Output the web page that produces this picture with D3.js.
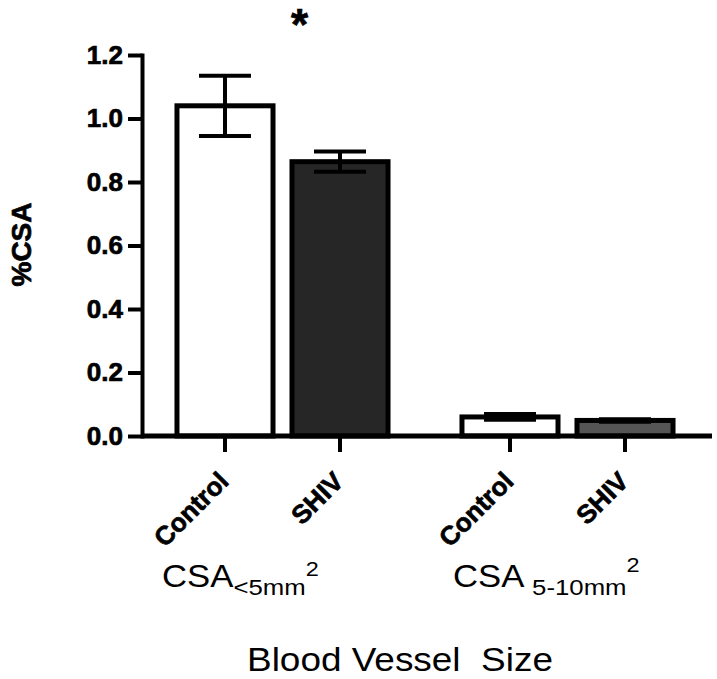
<!DOCTYPE html>
<html>
<head>
<meta charset="utf-8">
<script src="https://cdn.jsdelivr.net/npm/d3@7"></script>
<style>
  html, body { margin: 0; padding: 0; background: #fff; }
  svg { display: block; }
  text { font-family: "Liberation Sans", Arial, Helvetica, sans-serif; }
  .heavy { stroke: #000; stroke-width: 0.7px; paint-order: stroke; }
</style>
</head>
<body>
<svg id="chart" width="717" height="679"></svg>
<script>
// ---- data ----
const groups = ["lt5", "5to10"];
const conditions = ["Control", "SHIV"];
const controlMeans = [1.04, 0.06];
const controlSEM = [0.095, 0.009];
const shivMeans = [0.864, 0.049];
const shivSEM = [0.032, 0.004];
const yTicks = [0, 0.2, 0.4, 0.6, 0.8, 1.0, 1.2];
const groupLabelMain = ["CSA", "CSA "];
const groupLabelSub = ["<5mm", "5-10mm"];
const groupLabelSup = ["2", "2"];
const yLabel = "%CSA";
const xLabel = "Blood Vessel  Size";
const significance = ["*", ""];
const fills = { Control: "#ffffff", SHIV: ["#262626", "#555555"] };

const rows = [];
groups.forEach((g, i) => {
  rows.push({ group: g, gi: i, cond: "Control", mean: controlMeans[i], sem: controlSEM[i] });
  rows.push({ group: g, gi: i, cond: "SHIV", mean: shivMeans[i], sem: shivSEM[i] });
});

const svg = d3.select("#chart");

const y = d3.scaleLinear().domain([0, 1.2]).range([436, 55]);
const x0 = d3.scaleBand().domain(groups).range([140, 710]);
const x1 = d3.scaleBand().domain(conditions).range([0, x0.bandwidth()])
  .paddingInner(0.165).paddingOuter(0.3215);

// ---- bars ----
svg.append("g").selectAll("rect").data(rows).join("rect")
  .attr("x", d => x0(d.group) + x1(d.cond))
  .attr("width", x1.bandwidth())
  .attr("y", d => y(d.mean))
  .attr("height", d => y(0) - y(d.mean))
  .attr("fill", d => d.cond === "Control" ? fills.Control : fills.SHIV[d.gi])
  .attr("stroke", "#000")
  .attr("stroke-width", 5);

// ---- error bars ----
const eb = svg.append("g").attr("stroke", "#000").attr("stroke-width", 4);
rows.forEach(d => {
  const cx = x0(d.group) + x1(d.cond) + x1.bandwidth() / 2;
  eb.append("line").attr("x1", cx).attr("x2", cx)
    .attr("y1", y(d.mean + d.sem)).attr("y2", y(d.mean - d.sem));
  [d.mean + d.sem, d.mean - d.sem].forEach(v => {
    eb.append("line").attr("x1", cx - 26).attr("x2", cx + 26)
      .attr("y1", y(v)).attr("y2", y(v));
  });
});

// ---- x axis line ----
svg.append("line")
  .attr("x1", 142).attr("x2", x0.range()[1] + 2)
  .attr("y1", y(0)).attr("y2", y(0))
  .attr("stroke", "#000").attr("stroke-width", 5);

// ---- x axis ticks & category labels per group ----
groups.forEach(g => {
  const ax = svg.append("g")
    .attr("transform", `translate(${x0(g)},${y(0)})`)
    .call(d3.axisBottom(x1).tickSize(16).tickSizeOuter(0));
  ax.select(".domain").remove();
  ax.selectAll(".tick line").attr("stroke", "#000").attr("stroke-width", 4);
  ax.selectAll(".tick text")
    .attr("class", "heavy")
    .attr("x", 0).attr("y", 0).attr("dy", 0)
    .attr("text-anchor", "end")
    .attr("transform", "translate(5,47) rotate(-45)")
    .attr("fill", "#000")
    .style("font-family", "'Liberation Sans', Arial, sans-serif")
    .style("font-size", "26px")
    .style("font-weight", "bold");
});

// ---- y axis ----
const yAx = svg.append("g")
  .attr("transform", "translate(142,0)")
  .call(d3.axisLeft(y).tickValues(yTicks).tickFormat(d3.format(".1f"))
    .tickSize(14).tickSizeOuter(0).tickPadding(5));
yAx.select(".domain").attr("stroke", "#000").attr("stroke-width", 4)
  .attr("stroke-linecap", "square");
yAx.selectAll(".tick line").attr("stroke", "#000").attr("stroke-width", 4);
yAx.selectAll(".tick text").attr("fill", "#000").attr("class", "heavy")
  .style("font-family", "'Liberation Sans', Arial, sans-serif")
  .style("font-size", "26px").style("font-weight", "bold");

// ---- y label ----
svg.append("text")
  .attr("class", "heavy")
  .attr("transform", `translate(31,${(y(0) + y(1.2)) / 2 - 1}) rotate(-90)`)
  .attr("text-anchor", "middle")
  .style("font-size", "28px").style("font-weight", "bold")
  .text(yLabel);

// ---- significance ----
groups.forEach((g, i) => {
  if (!significance[i]) return;
  svg.append("text")
    .attr("class", "heavy")
    .attr("x", x0(g) + x0.bandwidth() / 2 + 17)
    .attr("y", 40)
    .attr("text-anchor", "middle")
    .style("font-size", "44px").style("font-weight", "bold")
    .text(significance[i]);
});

// ---- group labels ----
groups.forEach((g, i) => {
  const t = svg.append("text")
    .attr("transform", `translate(${x0(g) + 22 + i * 6},587) scale(1.12,1)`)
    .style("white-space", "pre");
  t.append("tspan").style("font-size", "31px").text(groupLabelMain[i]);
  t.append("tspan").style("font-size", "23px").attr("dy", 8).text(groupLabelSub[i]);
  t.append("tspan").style("font-size", "21px").attr("dy", i === 0 ? -19 : -23).text(groupLabelSup[i]);
});

// ---- x label ----
svg.append("text")
  .attr("transform", "translate(247,671) scale(1.12,1)")
  .style("white-space", "pre")
  .style("font-size", "33px")
  .text(xLabel);
</script>
</body>
</html>
